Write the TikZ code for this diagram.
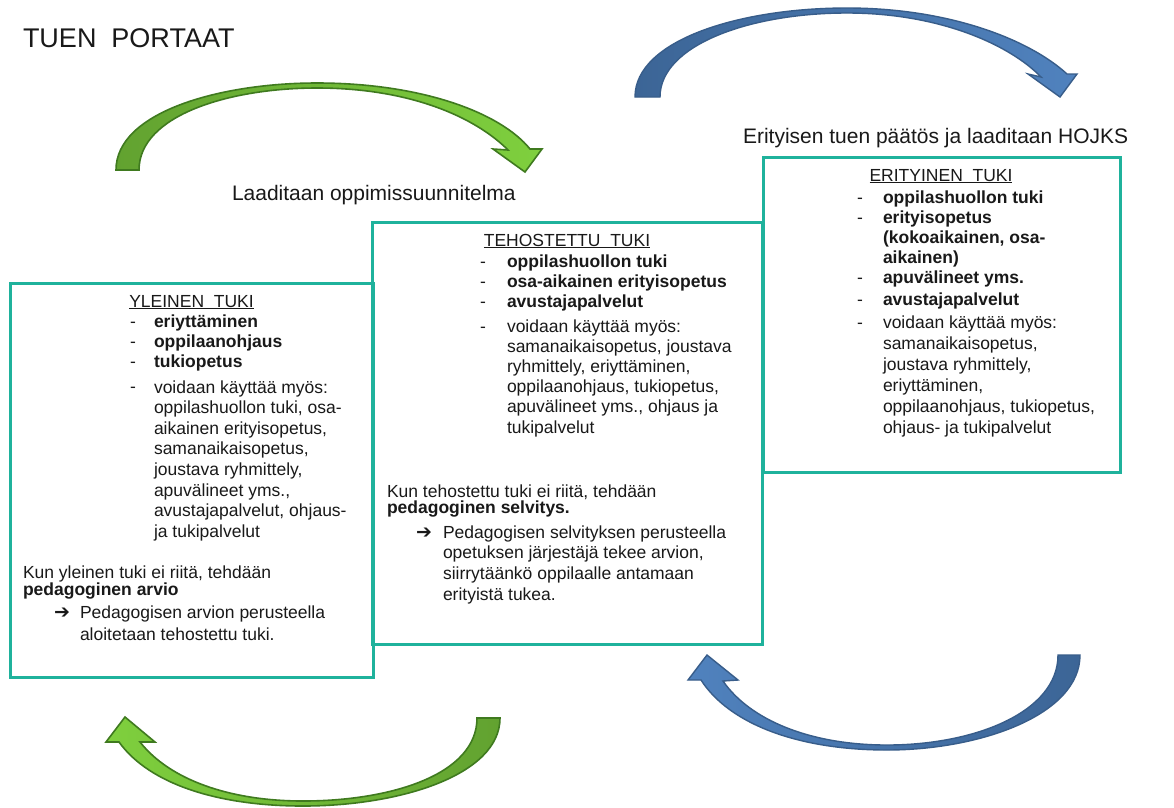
\documentclass[tikz,border=0pt]{standalone}
\usepackage{fontspec}
\setmainfont{Liberation Sans}
\newfontfamily\symfont{DejaVu Sans}
\definecolor{teal}{RGB}{31,178,156}
\definecolor{txt}{RGB}{25,25,25}
\definecolor{gdark}{RGB}{98,162,48}
\definecolor{glight}{RGB}{127,208,62}
\definecolor{gline}{RGB}{63,122,31}
\definecolor{bdark}{RGB}{60,101,150}
\definecolor{blight}{RGB}{80,130,190}
\definecolor{bline}{RGB}{56,93,138}
\begin{document}
\begin{tikzpicture}[x=1pt,y=-1pt,
  every node/.style={inner sep=0pt,outer sep=0pt,text=txt},
  body/.style={font=\fontsize{17.5}{20}\selectfont,anchor=base west},
  boldbody/.style={body,font=\fontsize{17.5}{20}\selectfont\bfseries},
  head/.style={font=\fontsize{17.5}{20}\selectfont,anchor=base},
  label/.style={font=\fontsize{21}{24}\selectfont,anchor=base west},
  arr/.style={font=\fontsize{19}{20}\symfont\bfseries,anchor=base west},
  tbox/.style={draw=teal,line width=3pt},
  garrow/.style={draw=gline,line width=1.6pt,line join=miter},
  barrow/.style={draw=bline,line width=1.4pt,line join=miter}]
\useasboundingbox (0,0) rectangle (1174,807);
\fill[white] (0,0) rectangle (1174,807);

% title and labels
\node[font=\fontsize{27}{30}\selectfont,anchor=base west] (title) at (23,47) {TUEN~~PORTAAT};
\node[label] (lab1) at (232,200) {Laaditaan oppimissuunnitelma};
\node[label] (lab2) at (743,143) {Erityisen tuen päätös ja laaditaan HOJKS};

% boxes
\draw[tbox] (10,283) rectangle (373,677);
\draw[tbox] (372,222) rectangle (762,644);
\draw[tbox] (763,157) rectangle (1120,472);

% curved arrows
\path[garrow,left color=gdark,right color=glight]
  (116,170) .. controls (116,112) and (220,83) .. (317,83)
  .. controls (420,83) and (500,112) .. (530,149)
  -- (542,149) -- (525,172) -- (493,149) -- (508,150)
  .. controls (475,117) and (410,88) .. (317,88)
  .. controls (230,88) and (139,115) .. (139,170) -- cycle;
\path[barrow,left color=bdark,right color=blight]
  (635,97) .. controls (635,40) and (740,8) .. (847,8)
  .. controls (950,8) and (1030,40) .. (1067,74)
  -- (1077,74) -- (1060,97) -- (1028,74) -- (1041,77)
  .. controls (1010,45) and (940,13) .. (847,13)
  .. controls (750,13) and (660,45) .. (660,97) -- cycle;
\path[barrow,left color=blight,right color=bdark]
  (1080,655) .. controls (1080,715) and (980,750) .. (887,750)
  .. controls (800,750) and (730,725) .. (701,680)
  -- (688,680) -- (707,655) -- (738,680) -- (723,681)
  .. controls (750,720) and (810,745) .. (887,745)
  .. controls (975,745) and (1058,712) .. (1058,655) -- cycle;
\path[garrow,left color=glight,right color=gdark]
  (500,718) .. controls (500,775) and (400,806) .. (303,806)
  .. controls (220,806) and (150,785) .. (119,742)
  -- (106,742) -- (125,717) -- (155,742) -- (140,742)
  .. controls (170,780) and (230,801) .. (303,801)
  .. controls (390,801) and (477,775) .. (477,718) -- cycle;

% ---- box 1: YLEINEN TUKI
\node[head] (h1) at (191.5,307) {\underline{YLEINEN~~TUKI}};
\foreach \yy [count=\i] in {327,347,367,392}
  \node[body,name=d1\i] at (130,\yy) {-};
\foreach \t [count=\i] in {eriyttäminen,oppilaanohjaus,tukiopetus}
  \node[boldbody,name=b1\i] at (154,{327+20*(\i-1)}) {\t};
\foreach \t [count=\i] in {voidaan  käyttää myös:,{oppilashuollon tuki, osa-},{aikainen erityisopetus,},{samanaikaisopetus,},{joustava ryhmittely,},{apuvälineet yms.,},{avustajapalvelut, ohjaus-},ja tukipalvelut}
  \node[body,name=n1\i] at (154,{393+20.6*(\i-1)}) {\t};
\node[body] (k1) at (23,578) {Kun yleinen tuki ei riitä, tehdään};
\node[boldbody] (p1) at (23,595) {pedagoginen arvio};
\node[arr] (a1) at (54,618) {➔};
\node[body] (q11) at (80,618) {Pedagogisen arvion perusteella};
\node[body] (q12) at (80,640) {aloitetaan tehostettu tuki.};

% ---- box 2: TEHOSTETTU TUKI
\node[head] (h2) at (567,246) {\underline{TEHOSTETTU~~TUKI}};
\foreach \yy [count=\i] in {267,287,307,332}
  \node[body,name=d2\i] at (480,\yy) {-};
\foreach \t [count=\i] in {oppilashuollon tuki,osa-aikainen erityisopetus,avustajapalvelut}
  \node[boldbody,name=b2\i] at (507,{267+20*(\i-1)}) {\t};
\foreach \t [count=\i] in {voidaan käyttää myös:,{samanaikaisopetus, joustava},{ryhmittely, eriyttäminen,},{oppilaanohjaus, tukiopetus,},{apuvälineet yms., ohjaus ja},tukipalvelut}
  \node[body,name=n2\i] at (507,{332+20.2*(\i-1)}) {\t};
\node[body] (k2) at (387,497) {Kun tehostettu tuki ei riitä, tehdään};
\node[boldbody] (p2) at (387,513) {pedagoginen selvitys.};
\node[arr] (a2) at (416,538) {➔};
\foreach \t [count=\i] in {Pedagogisen selvityksen perusteella,{opetuksen järjestäjä tekee arvion,},siirrytäänkö oppilaalle antamaan,erityistä tukea.}
  \node[body,name=q2\i] at (443,{538+20.7*(\i-1)}) {\t};

% ---- box 3: ERITYINEN TUKI
\node[head] (h3) at (941,181) {\underline{ERITYINEN~~TUKI}};
\foreach \yy [count=\i] in {203,223,283,305,328}
  \node[body,name=d3\i] at (857,\yy) {-};
\foreach \t/\yy [count=\i] in {oppilashuollon tuki/203,erityisopetus/223,{(kokoaikainen, osa-}/243,aikainen)/263,apuvälineet yms./283,avustajapalvelut/305}
  \node[boldbody,name=b3\i] at (883,\yy) {\t};
\foreach \t [count=\i] in {voidaan käyttää myös:,{samanaikaisopetus,},{joustava ryhmittely,},{eriyttäminen,},{oppilaanohjaus, tukiopetus,},ohjaus- ja tukipalvelut}
  \node[body,name=n3\i] at (883,{328+21*(\i-1)}) {\t};
\end{tikzpicture}
\end{document}
